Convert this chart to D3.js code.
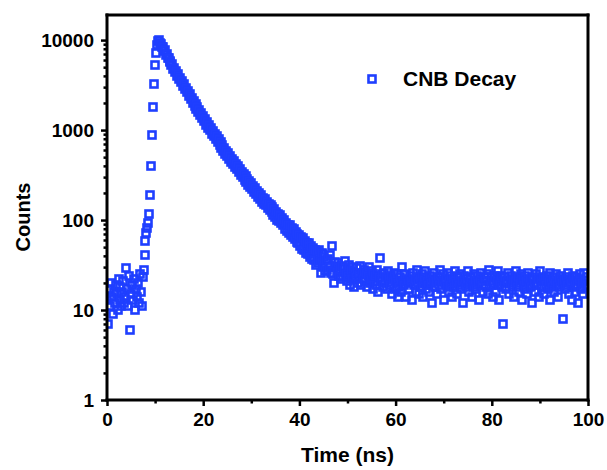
<!DOCTYPE html>
<html>
<head>
<meta charset="utf-8">
<script src="https://cdn.jsdelivr.net/npm/d3@7"></script>
<style>
body { margin: 0; background: #fff; }
svg text { font-family: "Liberation Sans", Arial, sans-serif; font-weight: bold; fill: #000; }
</style>
</head>
<body>
<div id="decaygraph"></div>
<script>
// TCSPC decay histogram, one value per channel, channel 0 = 0 ns
var channelWidth = 0.2; // ns per channel
var seriesName = 'CNB Decay';

// 0.0 - 7.4 ns
var baselineCounts = [13, 7, 17, 11, 20, 14, 9, 16, 12, 19, 15, 10, 22, 13, 18, 11, 16, 21, 12, 14,
	29, 17, 11, 24, 6, 15, 19, 13, 22, 10, 17, 14, 20, 12, 25, 16, 11, 23];
// 7.6 - 10.6 ns
var riseCounts = [28, 41, 59, 72, 81, 93, 116, 190, 400, 880, 1820, 3250, 5300, 7100, 8900, 9700];
// 10.8 - 60.6 ns
var decayCounts = [
	9900, 9200, 9100, 8350, 8300, 7600, 7800, 6850, 7050, 6300,
	6400, 5750, 5900, 5250, 5400, 4800, 4950, 4400, 4550, 4000,
	4150, 3680, 3800, 3380, 3480, 3100, 3230, 2850, 2950, 2620,
	2700, 2400, 2500, 2200, 2290, 2020, 2120, 1870, 1950, 1720,
	1800, 1580, 1660, 1460, 1540, 1350, 1430, 1250, 1320, 1150,
	1220, 1060, 1130, 990, 1050, 910, 980, 850, 910, 790,
	850, 730, 790, 680, 730, 630, 690, 590, 640, 545,
	590, 510, 555, 475, 515, 445, 480, 415, 450, 390,
	420, 365, 395, 340, 370, 320, 345, 300, 325, 280,
	305, 265, 285, 245, 270, 232, 255, 220, 240, 205,
	225, 196, 212, 180, 198, 172, 192, 160, 178, 152,
	170, 146, 160, 135, 152, 128, 147, 122, 138, 114,
	131, 108, 124, 101, 117, 97, 113, 92, 106, 87,
	99, 80, 93, 76, 89, 72, 88, 68, 81, 64,
	79, 61, 73, 57, 70, 55, 69, 52, 65, 48,
	63, 47, 58, 43, 56, 42, 55, 39, 52, 37,
	49, 36, 47, 32, 45, 33, 46, 35, 26, 42,
	43, 30, 39, 27, 36, 28, 37, 30, 41, 26,
	52, 25, 20, 34, 31, 27, 33, 24, 30, 22,
	31, 23, 29, 35, 25, 21, 28, 24, 32, 19,
	27, 22, 30, 18, 25, 23, 29, 20, 26, 31,
	19, 25, 22, 28, 21, 26, 18, 24, 30, 20,
	22, 27, 17, 25, 21, 24, 19, 28, 16, 23,
	38, 21, 25, 18, 26, 20, 23, 17, 27, 22,
	19, 24, 15, 22, 26, 21, 17, 25, 20, 14];
// 60.8 - 100 ns
var tailCounts = [
	18, 23, 16, 30, 21, 19, 25, 14, 22, 20,
	17, 24, 21, 13, 26, 19, 22, 16, 28, 20,
	15, 22, 18, 25, 20, 14, 23, 27, 17, 21,
	19, 16, 24, 20, 12, 22, 26, 18, 21, 15,
	23, 19, 28, 17, 21, 25, 13, 20, 22, 18,
	26, 16, 21, 19, 24, 14, 22, 18, 27, 20,
	15, 23, 19, 25, 17, 21, 12, 24, 20, 18,
	22, 27, 16, 20, 23, 14, 19, 25, 18, 21,
	17, 24, 20, 13, 22, 26, 19, 16, 23, 21,
	18, 25, 15, 28, 21, 19, 23, 14, 20, 24,
	16, 22, 27, 19, 13, 21, 24, 18, 7, 20,
	23, 17, 21, 26, 15, 20, 24, 19, 22, 14,
	21, 27, 18, 23, 16, 20, 25, 13, 22, 19,
	24, 17, 21, 15, 26, 19, 22, 18, 12, 23,
	20, 16, 25, 19, 22, 14, 27, 21, 18, 23,
	15, 22, 19, 24, 17, 21, 13, 26, 20, 18,
	23, 16, 21, 25, 19, 14, 22, 18, 24, 20,
	8, 21, 17, 23, 19, 26, 15, 22, 20, 13,
	24, 18, 21, 16, 23, 19, 12, 22, 25, 17,
	20, 15, 26, 21, 18, 23, 19];

var xTicks = [0, 20, 40, 60, 80, 100],
	xMinorTicks = [10, 30, 50, 70, 90],
	yTicks = [1, 10, 100, 1000, 10000];

var svgwidth = 607, svgheight = 470;
var margin = {top: 15, right: 19, bottom: 70, left: 107};
var width = svgwidth - margin.left - margin.right,
	height = svgheight - margin.top - margin.bottom;
var blue = '#1f3fff';

var counts = baselineCounts.concat(riseCounts, decayCounts, tailCounts);
var points = counts.map(function(c, i) { return {time: i * channelWidth, count: c}; });

var svg = d3.select('#decaygraph')
	.append('svg')
		.attr('width', svgwidth)
		.attr('height', svgheight);

var x = d3.scaleLinear()
	.domain([0, 100])
	.range([0, width]);

var y = d3.scaleLog()
	.domain([1, 19000])
	.range([height, 0]);

var yMinorTicks = [];
[1, 10, 100, 1000].forEach(function(dec) {
	for (var k = 2; k <= 9; k++) yMinorTicks.push(dec * k);
});

var focus = svg.append('g')
	.attr('transform', 'translate(' + margin.left + ',' + margin.top + ')');

focus.append('clipPath')
	.attr('id', 'plotclip')
	.append('rect')
		.attr('width', width)
		.attr('height', height);

// data squares
focus.append('g')
	.attr('clip-path', 'url(#plotclip)')
	.selectAll('rect')
	.data(points)
	.enter().append('rect')
		.attr('x', function(d) { return Math.round(x(d.time)) - 3.5; })
		.attr('y', function(d) { return Math.round(y(d.count)) - 3.5; })
		.attr('width', 7)
		.attr('height', 7)
		.attr('fill', 'none')
		.attr('stroke', blue)
		.attr('stroke-width', 2.6);

// minor ticks
focus.append('g')
	.attr('class', 'y minor')
	.call(d3.axisLeft(y).tickValues(yMinorTicks).tickSize(3.5).tickSizeOuter(0).tickFormat(''));
focus.append('g')
	.attr('class', 'x minor')
	.attr('transform', 'translate(0,' + height + ')')
	.call(d3.axisBottom(x).tickValues(xMinorTicks).tickSize(3.5).tickSizeOuter(0).tickFormat(''));

// major axes
var gY = focus.append('g')
	.attr('class', 'y axis')
	.call(d3.axisLeft(y).tickValues(yTicks).tickSize(6).tickSizeOuter(0).tickPadding(7).tickFormat(d3.format('d')));
var gX = focus.append('g')
	.attr('class', 'x axis')
	.attr('transform', 'translate(0,' + height + ')')
	.call(d3.axisBottom(x).tickValues(xTicks).tickSize(6).tickSizeOuter(0).tickPadding(7));

focus.selectAll('.tick line').attr('stroke', '#000').attr('stroke-width', 2.5);
focus.selectAll('.domain').remove();
focus.selectAll('.axis text')
	.attr('font-family', '"Liberation Sans", Arial, sans-serif')
	.attr('font-size', 19)
	.attr('font-weight', 'bold');

// frame drawn as filled bars so it stays solid black
var t = 3;
var frame = focus.append('g').attr('fill', '#000');
frame.append('rect').attr('x', -t / 2).attr('y', -t / 2).attr('width', width + t).attr('height', t);          // top
frame.append('rect').attr('x', -t / 2).attr('y', height - t / 2).attr('width', width + t).attr('height', t); // bottom
frame.append('rect').attr('x', -t / 2).attr('y', -t / 2).attr('width', t).attr('height', height + t);         // left
frame.append('rect').attr('x', width - t / 2).attr('y', -t / 2).attr('width', t).attr('height', height + t); // right

// axis titles
svg.append('text')
	.attr('x', margin.left + width / 2)
	.attr('y', 462)
	.attr('text-anchor', 'middle')
	.attr('font-size', 21)
	.text('Time (ns)');
svg.append('text')
	.attr('transform', 'translate(30,217) rotate(-90)')
	.attr('text-anchor', 'middle')
	.attr('font-size', 20)
	.text('Counts');

// legend
var legend = svg.append('g');
legend.append('rect')
	.attr('x', 368.5)
	.attr('y', 75.5)
	.attr('width', 7)
	.attr('height', 7)
	.attr('fill', 'none')
	.attr('stroke', blue)
	.attr('stroke-width', 2.6);
legend.append('text')
	.attr('x', 403)
	.attr('y', 86)
	.attr('font-size', 21)
	.text(seriesName);
</script>
</body>
</html>
